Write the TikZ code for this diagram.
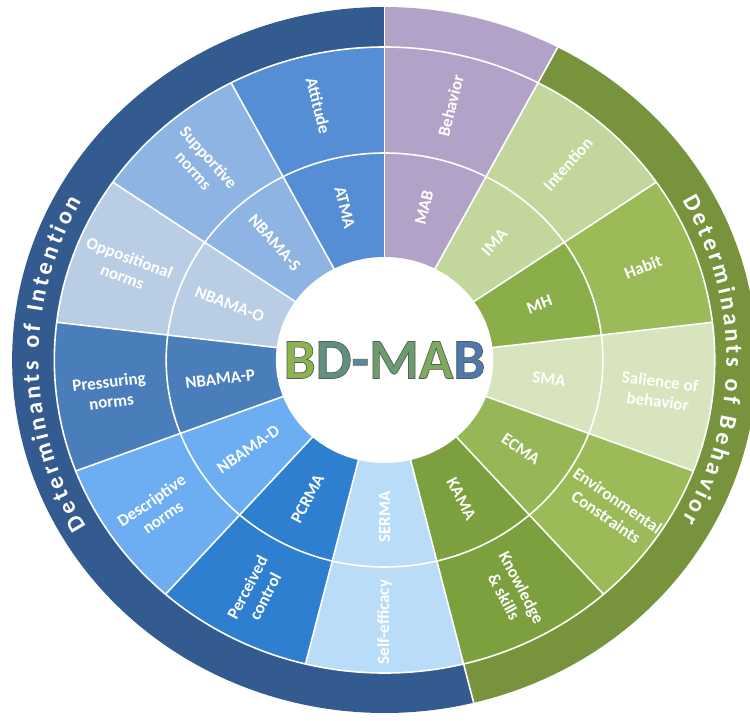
\documentclass[tikz,border=0pt]{standalone}
\usepackage{fontspec}
\setmainfont{Carlito}
\newfontface\hubface{Carlito Bold}[FakeBold=1.2]
\usetikzlibrary{decorations.text}

% ring colours
\definecolor{ringblue}{HTML}{345B8F}
\definecolor{ringgreen}{HTML}{77933C}
\definecolor{behav}{HTML}{B3A2C7}
\definecolor{intent}{HTML}{C3D69B}
\definecolor{habit}{HTML}{9BBB59}
\definecolor{mhcol}{HTML}{8AAE4A}
\definecolor{salience}{HTML}{D7E4BD}
\definecolor{environ}{HTML}{9BBB59}
\definecolor{ecmacol}{HTML}{95B755}
\definecolor{knowl}{HTML}{7BA03D}
\definecolor{selfeff}{HTML}{B9DDF8}
\definecolor{perc}{HTML}{2E7FD0}
\definecolor{descr}{HTML}{6DAEF3}
\definecolor{press}{HTML}{4A7EBB}
\definecolor{oppos}{HTML}{B9CDE5}
\definecolor{supp}{HTML}{8EB4E3}
\definecolor{attit}{HTML}{558ED5}
% letters of the hub
\definecolor{hubone}{HTML}{8DB350}
\definecolor{hubtwo}{HTML}{62907E}
\definecolor{hubthree}{HTML}{5A87A0}
\definecolor{hubfour}{HTML}{6C9B70}
\definecolor{hubfive}{HTML}{7FA95E}
\definecolor{hubsix}{HTML}{4E78AE}

\newcommand{\bandfont}{\fontsize{24}{24}\selectfont\bfseries}
% dark rim: stroke colour only, the fill stays per letter
\newcommand{\rim}{\special{pdf:code 0.33 0.37 0.33 RG}}
\newcommand{\hubletter}[2]{\textcolor{#1}{\rim #2}}

\begin{document}
\begin{tikzpicture}[x=1.055pt, y=1pt,
  sep/.style={draw=white, line width=1.6pt},
  lbl/.style={text=white, font=\fontsize{17}{20}\selectfont\bfseries, align=center, inner sep=0pt},
  band/.style={decorate, decoration={text along path, text align={fit to path}, text color=white, text={|\bandfont|#1}}}]
  \clip (-364.5,-360) rectangle (346.4,360);

  % outer band
  \fill[ringblue] (0,0) -- (90:353) arc[start angle=90, end angle=283.85, radius=353] -- cycle;
  \fill[ringgreen] (0,0) -- (-76.15:353) arc[start angle=-76.15, end angle=62.31, radius=353] -- cycle;
  \fill[behav] (0,0) -- (62.31:353) arc[start angle=62.31, end angle=90, radius=353] -- cycle;

  % middle and inner ring
  \fill[behav] (0,0) -- (90:313) arc[start angle=90, end angle=62.31, radius=313] -- cycle;
  \fill[intent] (0,0) -- (62.31:313) arc[start angle=62.31, end angle=34.62, radius=313] -- cycle;
  \fill[habit] (0,0) -- (34.62:313) arc[start angle=34.62, end angle=6.92, radius=313] -- cycle;
  \fill[salience] (0,0) -- (6.92:313) arc[start angle=6.92, end angle=-20.77, radius=313] -- cycle;
  \fill[environ] (0,0) -- (-20.77:313) arc[start angle=-20.77, end angle=-48.46, radius=313] -- cycle;
  \fill[knowl] (0,0) -- (-48.46:313) arc[start angle=-48.46, end angle=-76.15, radius=313] -- cycle;
  \fill[selfeff] (0,0) -- (-76.15:313) arc[start angle=-76.15, end angle=-103.85, radius=313] -- cycle;
  \fill[perc] (0,0) -- (-103.85:313) arc[start angle=-103.85, end angle=-131.54, radius=313] -- cycle;
  \fill[descr] (0,0) -- (-131.54:313) arc[start angle=-131.54, end angle=-159.23, radius=313] -- cycle;
  \fill[press] (0,0) -- (-159.23:313) arc[start angle=-159.23, end angle=-186.92, radius=313] -- cycle;
  \fill[oppos] (0,0) -- (-186.92:313) arc[start angle=-186.92, end angle=-214.62, radius=313] -- cycle;
  \fill[supp] (0,0) -- (-214.62:313) arc[start angle=-214.62, end angle=-242.31, radius=313] -- cycle;
  \fill[attit] (0,0) -- (-242.31:313) arc[start angle=-242.31, end angle=-270, radius=313] -- cycle;

  \fill[mhcol] (0,0) -- (34.62:207) arc[start angle=34.62, end angle=6.92, radius=207] -- cycle;
  \fill[ecmacol] (0,0) -- (-20.77:207) arc[start angle=-20.77, end angle=-48.46, radius=207] -- cycle;

  % white seams
  \draw[sep] (0,0) circle[radius=207];
  \draw[sep] (0,0) circle[radius=313];
  \draw[sep] (0,0) -- (90:353);
  \draw[sep] (0,0) -- (62.31:353);
  \draw[sep] (0,0) -- (34.62:313);
  \draw[sep] (0,0) -- (6.92:313);
  \draw[sep] (0,0) -- (-20.77:313);
  \draw[sep] (0,0) -- (-48.46:313);
  \draw[sep] (0,0) -- (-76.15:353);
  \draw[sep] (0,0) -- (-103.85:313);
  \draw[sep] (0,0) -- (-131.54:313);
  \draw[sep] (0,0) -- (-159.23:313);
  \draw[sep] (0,0) -- (-186.92:313);
  \draw[sep] (0,0) -- (-214.62:313);
  \draw[sep] (0,0) -- (-242.31:313);

  \fill[white] (0,0) circle[radius=103];

  % outer labels
  \node[lbl, rotate=76.15] (behavior) at (76.15:262) {Behavior};
  \node[lbl, rotate=48.46] (intention) at (48.46:262) {Intention};
  \node[lbl, rotate=20.77] (habit) at (20.77:262) {Habit};
  \node[lbl, rotate=-6.92] (salience) at (-6.92:262) {Salience of\\behavior};
  \node[lbl, rotate=-34.62] (environ) at (-34.62:262) {Environmental\\Constraints};
  \node[lbl, rotate=-62.31] (knowl) at (-62.31:262) {Knowledge\\\& skills};
  \node[lbl, rotate=90] (selfeff) at (-90:262) {Self-efficacy};
  \node[lbl, rotate=62.31] (perc) at (-117.69:262) {Perceived\\control};
  \node[lbl, rotate=34.62] (descr) at (-145.38:262) {Descriptive\\norms};
  \node[lbl, rotate=6.92] (press) at (-173.08:262) {Pressuring\\norms};
  \node[lbl, rotate=-20.77] (oppos) at (-200.77:262) {Oppositional\\norms};
  \node[lbl, rotate=-48.46] (supp) at (-228.46:262) {Supportive\\norms};
  \node[lbl, rotate=-76.15] (attit) at (-256.15:262) {Attitude};

  % inner labels
  \node[lbl, rotate=76.15] (mab) at (76.15:157) {MAB};
  \node[lbl, rotate=48.46] (ima) at (48.46:157) {IMA};
  \node[lbl, rotate=20.77] (mh) at (20.77:157) {MH};
  \node[lbl, rotate=-6.92] (sma) at (-6.92:157) {SMA};
  \node[lbl, rotate=-34.62] (ecma) at (-34.62:157) {ECMA};
  \node[lbl, rotate=-62.31] (kama) at (-62.31:157) {KAMA};
  \node[lbl, rotate=90] (serma) at (-90:157) {SERMA};
  \node[lbl, rotate=62.31] (pcrma) at (-117.69:157) {PCRMA};
  \node[lbl, rotate=34.62] (nbamad) at (-145.38:157) {NBAMA-D};
  \node[lbl, rotate=6.92] (nbamap) at (-173.08:157) {NBAMA-P};
  \node[lbl, rotate=-20.77] (nbamao) at (-200.77:157) {NBAMA-O};
  \node[lbl, rotate=-48.46] (nbamas) at (-228.46:157) {NBAMA-S};
  \node[lbl, rotate=-76.15] (atma) at (-256.15:157) {ATMA};

  % band titles
  \path[band={Determinants of Intention}] (210.5:328) arc[start angle=210.5, end angle=151, radius=328];
  \path[band={Determinants of Behavior}] (29.5:324) arc[start angle=29.5, end angle=-29.5, radius=324];

  % hub title
  \node[font=\hubface\fontsize{57}{57}\selectfont] (hub) at (0,0) {\hubletter{hubone}{B}\hubletter{hubtwo}{D}\hubletter{hubthree}{-}\hubletter{hubfour}{M}\hubletter{hubfive}{A}\hubletter{hubsix}{B}};
\end{tikzpicture}
\end{document}
